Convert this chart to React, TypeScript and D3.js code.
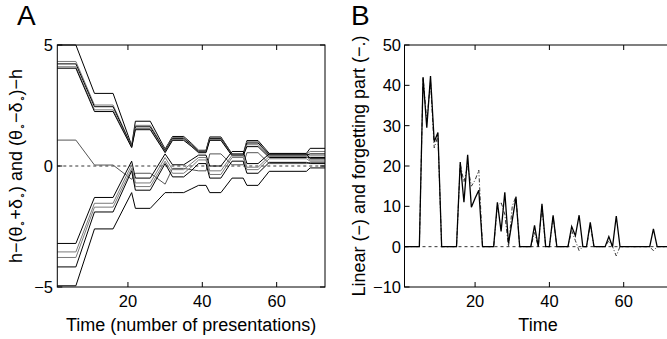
import React from "react";
import * as d3 from "d3";

// ---------- Panel A data (values at knot times) ----------
const KNOT_TIMES = [1, 6, 11, 16, 21, 22, 26, 30, 32, 35, 37, 39, 41, 42, 45, 48, 51, 52, 55, 58, 68, 69, 73];

const UPPER_1 = [5.0, 5.0, 3.0, 3.0, 0.85, 1.85, 1.85, 0.7, 1.22, 1.22, 0.95, 0.65, 0.65, 1.2, 1.2, 0.5, 0.5, 1.05, 1.05, 0.52, 0.52, 0.73, 0.73];
const UPPER_2 = [4.32, 4.32, 2.52, 2.52, 0.82, 1.68, 1.68, 0.66, 1.18, 1.18, 0.92, 0.62, 0.62, 1.17, 1.17, 0.48, 0.48, 1.0, 1.0, 0.48, 0.48, 0.6, 0.6];
const UPPER_3 = [4.22, 4.22, 2.45, 2.45, 0.8, 1.62, 1.62, 0.62, 1.14, 1.14, 0.88, 0.6, 0.6, 1.14, 1.14, 0.46, 0.46, 0.95, 0.95, 0.45, 0.45, 0.5, 0.5];
const UPPER_4 = [4.1, 4.1, 2.32, 2.32, 0.78, 1.55, 1.55, 0.58, 1.1, 1.1, 0.85, 0.58, 0.58, 1.1, 1.1, 0.44, 0.44, 0.88, 0.88, 0.4, 0.4, 0.42, 0.42];
const UPPER_5 = [4.04, 4.04, 2.25, 2.25, 0.76, 1.5, 1.5, 0.55, 1.06, 1.06, 0.82, 0.55, 0.55, 1.06, 1.06, 0.42, 0.42, 0.8, 0.8, 0.35, 0.35, 0.35, 0.35];
const UPPER_6 = [1.07, 1.07, 0.04, 0.04, -0.55, -0.3, -0.3, -0.75, -0.1, -0.1, -0.15, -0.2, -0.2, 0.5, 0.5, 0.05, 0.05, 0.55, 0.55, 0.1, 0.1, 0.15, 0.15];

const LOWER_1 = [-3.2, -3.2, -1.3, -1.3, 0.2, -0.5, -0.5, 0.5, 0.05, 0.05, 0.25, 0.45, 0.45, 0.0, 0.0, 0.6, 0.6, 0.1, 0.1, 0.5, 0.5, 0.3, 0.3];
const LOWER_2 = [-3.55, -3.55, -1.54, -1.54, 0.05, -0.7, -0.7, 0.35, -0.15, -0.15, 0.1, 0.35, 0.35, -0.2, -0.2, 0.45, 0.45, -0.05, -0.05, 0.4, 0.4, 0.25, 0.25];
const LOWER_3 = [-3.78, -3.78, -1.7, -1.7, -0.1, -0.85, -0.85, 0.2, -0.3, -0.3, -0.05, 0.25, 0.25, -0.35, -0.35, 0.35, 0.35, -0.15, -0.15, 0.3, 0.3, 0.2, 0.2];
const LOWER_4 = [-4.17, -4.17, -1.9, -1.9, -0.2, -1.0, -1.0, 0.1, -0.45, -0.45, -0.2, 0.1, 0.1, -0.5, -0.5, 0.2, 0.2, -0.3, -0.3, 0.15, 0.15, 0.1, 0.1];
const LOWER_5 = [-4.95, -4.95, -2.6, -2.6, -1.1, -1.75, -1.75, -1.1, -1.1, -1.1, -0.95, -0.8, -0.8, -1.1, -1.1, -0.5, -0.5, -0.8, -0.8, -0.22, -0.22, -0.08, -0.08];

const A_SERIES = [
  { values: UPPER_1, color: "#000" },
  { values: UPPER_2, color: "#7a7a7a" },
  { values: UPPER_3, color: "#000" },
  { values: UPPER_4, color: "#7a7a7a" },
  { values: UPPER_5, color: "#000" },
  { values: UPPER_6, color: "#555" },
  { values: LOWER_1, color: "#000" },
  { values: LOWER_2, color: "#7a7a7a" },
  { values: LOWER_3, color: "#7a7a7a" },
  { values: LOWER_4, color: "#000" },
  { values: LOWER_5, color: "#000" },
];

const A_X_TICKS = [20, 40, 60];
const A_Y_TICKS = [-5, 0, 5];

// ---------- Panel B data (t = 1..73) ----------
const B_TIMES = [
  1, 2, 3, 4, 5, 6, 7, 8, 9, 10, 11, 12, 13, 14, 15, 16, 17, 18, 19, 20, 21, 22, 23, 24, 25,
  26, 27, 28, 29, 30, 31, 32, 33, 34, 35, 36, 37, 38, 39, 40, 41, 42, 43, 44, 45, 46, 47, 48, 49,
  50, 51, 52, 53, 54, 55, 56, 57, 58, 59, 60, 61, 62, 63, 64, 65, 66, 67, 68, 69, 70, 71, 72, 73,
];
const LINEAR_PART = [
  0, 0, 0, 0, 0, 42, 29.5, 42.3, 26, 28.3, 0, 0, 0, 0, 0, 21, 11, 22.8, 9.8, 12, 14, 0, 0, 0, 0,
  11, 3.8, 13.5, 0.8, 6.5, 12.3, 0, 0, 0, 0, 5.3, 0, 10.6, 0, 0, 7.8, 0, 0, 0, 0, 5, 2.7, 7.8, 0,
  0, 6, 0, 0, 0, 0, 2.5, 0, 7.6, 0, 0, 0, 0, 0, 0, 0, 0, 0, 4.4, 0, 0, 0, 0, 0,
];
const FORGETTING_PART = [
  0, 0, 0, 0, 0, 42, 31, 41, 24.5, 27.5, 0, 0, 0, 0, 0, 20.5, 16, 20, 15, 16.5, 19, 0, 0, 0, 0,
  10, 11, 8, 0, 10, 12.5, 0, 0, 0, 0, 3.5, 0, 10, 0, 0, 7.5, 0, 0, 0, 0, 4, 1.5, -1, 0,
  0, 5.5, 0, 0, 0, 0, 1.5, 0, -2.3, 0, 0, 0, 0, 0, 0, 0, 0, 0, -1, 0, 0, 0, 0, 0,
];
const B_X_TICKS = [20, 40, 60];
const B_Y_TICKS = [-10, 0, 10, 20, 30, 40, 50];

const FONT = "'Liberation Sans', Arial, Helvetica, sans-serif";
const fmt = (v: number) => (v < 0 ? "\u2212" + Math.abs(v) : String(v));

export default function App() {
  const W = 667, H = 339;
  const top = 45, bottom = 287;

  const xA = d3.scaleLinear().domain([1, 73]).range([57.3, 325]);
  const yA = d3.scaleLinear().domain([-5, 5]).range([bottom, top]);
  const xB = d3.scaleLinear().domain([1, 73]).range([404.5, 672]);
  const yB = d3.scaleLinear().domain([-10, 50]).range([bottom, top]);

  const lineA = (vals: number[]) =>
    d3.line<number>().x((_, i) => xA(KNOT_TIMES[i])).y((v) => yA(v))(vals) || "";
  const lineB = (vals: number[]) =>
    d3.line<number>().x((_, i) => xB(B_TIMES[i])).y((v) => yB(v))(vals) || "";

  const tick = 5;

  return (
    <svg width={W} height={H} style={{ position: "absolute", left: 0, top: 0, background: "#fff" }} fontFamily={FONT}>
      <rect x={0} y={0} width={W} height={H} fill="#fff" />
      {/* Panel letters */}
      <text x={17} y={25} fontSize={28}>A</text>
      <text x={351} y={25} fontSize={28}>B</text>

      {/* ---------- Panel A ---------- */}
      <g>
        <line x1={xA(1)} x2={xA(73)} y1={yA(0)} y2={yA(0)} stroke="#000" strokeWidth={0.8} strokeDasharray="3,3" />
        {A_SERIES.map((s, i) => (
          <path key={i} d={lineA(s.values)} fill="none" stroke={s.color} strokeWidth={1} />
        ))}
        <rect x={xA(1)} y={top} width={xA(73) - xA(1)} height={bottom - top} fill="none" stroke="#000" strokeWidth={1} />
        {A_X_TICKS.map((t) => (
          <g key={t}>
            <line x1={xA(t)} x2={xA(t)} y1={bottom} y2={bottom - tick} stroke="#000" />
            <line x1={xA(t)} x2={xA(t)} y1={top} y2={top + tick} stroke="#000" />
            <text x={xA(t)} y={307} fontSize={16.5} textAnchor="middle">{fmt(t)}</text>
          </g>
        ))}
        {A_Y_TICKS.map((t) => (
          <g key={t}>
            <line x1={xA(1)} x2={xA(1) + tick} y1={yA(t)} y2={yA(t)} stroke="#000" />
            <line x1={xA(73)} x2={xA(73) - tick} y1={yA(t)} y2={yA(t)} stroke="#000" />
            <text x={53} y={yA(t) + 6} fontSize={16.5} textAnchor="end">{fmt(t)}</text>
          </g>
        ))}
        <text x={(xA(1) + xA(73)) / 2} y={331} fontSize={18} textAnchor="middle">Time (number of presentations)</text>
        <text transform={`translate(22,${(top + bottom) / 2}) rotate(-90)`} fontSize={18} textAnchor="middle">
          h−(θ<tspan fontSize={11} dy={4}>∘</tspan><tspan dy={-4}>+δ</tspan><tspan fontSize={11} dy={4}>∘</tspan><tspan dy={-4}>) and (θ</tspan><tspan fontSize={11} dy={4}>∘</tspan><tspan dy={-4}>−δ</tspan><tspan fontSize={11} dy={4}>∘</tspan><tspan dy={-4}>)−h</tspan>
        </text>
      </g>

      {/* ---------- Panel B ---------- */}
      <g>
        <line x1={xB(1)} x2={xB(73)} y1={yB(0)} y2={yB(0)} stroke="#000" strokeWidth={0.8} strokeDasharray="3,3" />
        <path d={lineB(FORGETTING_PART)} fill="none" stroke="#333" strokeWidth={1} strokeDasharray="4,2,1,2" />
        <path d={lineB(LINEAR_PART)} fill="none" stroke="#000" strokeWidth={1.3} />
        <rect x={xB(1)} y={top} width={xB(73) - xB(1)} height={bottom - top} fill="none" stroke="#000" strokeWidth={1} />
        {B_X_TICKS.map((t) => (
          <g key={t}>
            <line x1={xB(t)} x2={xB(t)} y1={bottom} y2={bottom - tick} stroke="#000" />
            <line x1={xB(t)} x2={xB(t)} y1={top} y2={top + tick} stroke="#000" />
            <text x={xB(t)} y={307} fontSize={16.5} textAnchor="middle">{fmt(t)}</text>
          </g>
        ))}
        {B_Y_TICKS.map((t) => (
          <g key={t}>
            <line x1={xB(1)} x2={xB(1) + tick} y1={yB(t)} y2={yB(t)} stroke="#000" />
            <text x={401} y={yB(t) + 6} fontSize={16.5} textAnchor="end">{fmt(t)}</text>
          </g>
        ))}
        <text x={538} y={331} fontSize={18} textAnchor="middle">Time</text>
        <text transform={`translate(365,${(top + bottom) / 2}) rotate(-90)`} fontSize={18} textAnchor="middle">
          Linear (−) and forgetting part (−.)
        </text>
      </g>
    </svg>
  );
}
